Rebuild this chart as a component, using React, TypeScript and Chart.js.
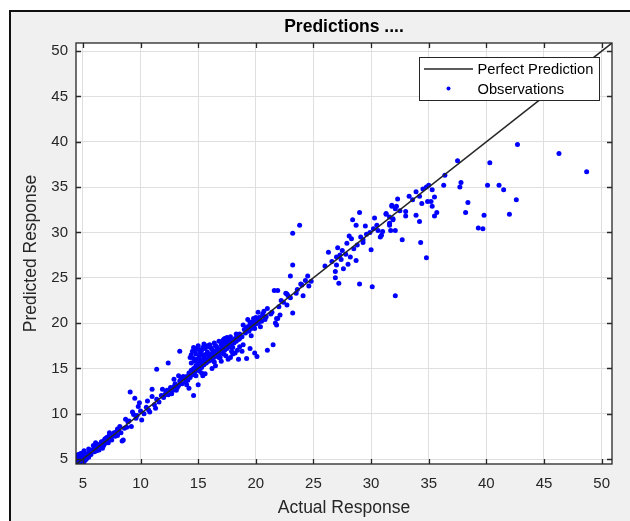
import React, { useEffect, useRef } from 'react';
import { Chart, registerables } from 'chart.js';

Chart.register(...registerables);

// ---- Data: [actual response, predicted response] ----
const obs04to06: number[][] = [
  [4.5, 4.6], [4.6, 5.0], [4.7, 4.5], [4.8, 5.3], [4.9, 4.8], [5.0, 5.1], [4.6, 5.5], [5.1, 4.7],
  [5.2, 5.4], [4.8, 4.5], [5.3, 5.0], [5.0, 5.7], [4.7, 5.2], [5.4, 5.6], [5.5, 5.2], [4.9, 4.6],
  [5.2, 4.9], [5.6, 5.8], [4.5, 5.2], [5.1, 5.9], [4.6, 4.8], [4.8, 5.6], [5.3, 5.4], [4.7, 4.7],
  [5.7, 5.5], [5.5, 6.1],
];
const obs06to09: number[][] = [
  [5.8, 6.0], [6.0, 6.3], [6.2, 5.9], [6.3, 6.6], [6.5, 6.4], [6.6, 6.9], [6.8, 6.5], [6.9, 7.2],
  [7.0, 7.0], [7.1, 7.4], [7.2, 6.8], [7.3, 7.6], [7.4, 7.3], [7.5, 7.1], [7.6, 7.7], [7.8, 7.5],
  [7.9, 8.0], [8.0, 7.6], [8.1, 8.2], [8.3, 7.9], [8.4, 7.0], [8.5, 7.1], [8.6, 8.4], [8.8, 8.5],
  [6.1, 6.8], [6.7, 6.2], [7.7, 7.9], [8.2, 8.6], [5.9, 6.5], [6.4, 6.0], [8.9, 9.1], [9.2, 8.6],
  [9.7, 9.8], [8.7, 9.4], [7.3, 7.9], [6.9, 6.7], [6.0, 5.8], [6.3, 6.2], [6.6, 6.6], [7.0, 7.3],
  [7.2, 7.1], [7.5, 7.6], [7.8, 7.8], [8.0, 8.3], [6.2, 6.5], [6.8, 7.0],
];
const obs09to14: number[][] = [
  [9.1, 12.4], [9.5, 11.7], [9.9, 11.2], [9.3, 10.2], [9.4, 9.9], [10.1, 9.3], [11.0, 11.9], [10.8, 10.2],
  [9.0, 9.2], [9.6, 9.5], [10.0, 10.3], [10.3, 10.0], [10.5, 10.7], [10.7, 10.4], [11.2, 11.0], [11.4, 11.6],
  [11.6, 11.3], [11.8, 12.0], [12.0, 11.8], [12.2, 12.4], [12.4, 12.1], [12.6, 12.9], [12.8, 12.6], [13.0, 13.3],
  [13.2, 12.9], [13.4, 13.6], [13.6, 13.3], [13.8, 13.9], [12.4, 15.6], [11.4, 14.9], [11.0, 12.7], [13.4, 16.9],
  [12.9, 13.8], [11.9, 12.7], [10.6, 11.4], [9.8, 10.8], [12.7, 12.2], [13.1, 12.6], [13.9, 13.5], [11.3, 10.6],
  [12.1, 12.1], [12.5, 12.6], [13.3, 13.1], [13.7, 14.1], [12.3, 12.6], [12.9, 13.0], [13.5, 13.8], [13.3, 14.2],
];
const obs14to19: number[][] = [
  [14.0, 14.1], [14.1, 13.7], [14.2, 14.5], [14.3, 14.0], [14.4, 14.8], [14.5, 14.3], [14.6, 15.0], [14.7, 14.6],
  [14.8, 15.3], [14.9, 14.9], [15.0, 15.2], [15.1, 14.7], [15.2, 15.6], [15.3, 15.1], [15.4, 15.8], [15.5, 15.4],
  [15.6, 16.0], [15.7, 15.6], [15.8, 16.1], [15.9, 15.8], [16.0, 16.2], [16.1, 15.9], [16.2, 16.5], [16.3, 16.1],
  [16.4, 16.6], [16.5, 16.3], [16.6, 16.8], [16.7, 16.5], [16.8, 17.0], [16.9, 16.7], [17.0, 17.2], [17.1, 16.9],
  [17.2, 17.4], [17.3, 17.0], [17.4, 17.5], [17.5, 17.2], [17.6, 17.7], [17.7, 17.4], [17.8, 17.9], [17.9, 17.6],
  [18.0, 18.1], [18.1, 17.8], [18.2, 18.3], [18.3, 18.0], [18.4, 18.5], [18.5, 18.2],
  [14.3, 16.2], [14.5, 16.9], [14.6, 17.3], [14.8, 16.6], [15.0, 17.5], [15.1, 16.3], [15.3, 17.0], [15.4, 16.5],
  [15.6, 17.2], [15.8, 16.8], [16.0, 17.6], [16.2, 17.1], [16.4, 17.8], [14.4, 15.6], [14.9, 16.0], [15.5, 17.7],
  [16.6, 17.4], [16.8, 18.0], [17.2, 18.2], [17.5, 18.4], [14.7, 17.0], [15.2, 16.7], [15.9, 17.4], [16.5, 16.9],
  [16.5, 15.3], [17.0, 15.8], [17.4, 16.4], [17.8, 16.2], [18.2, 16.7], [18.5, 16.0], [18.8, 16.9], [19.2, 16.1],
  [19.9, 16.7], [20.1, 16.3], [21.0, 17.0], [21.5, 17.6], [17.6, 16.0], [16.2, 15.0], [15.6, 14.4], [18.0, 16.6],
  [14.2, 12.8], [14.6, 12.0], [15.0, 13.2], [14.0, 13.2], [15.4, 14.2], [16.9, 16.2], [17.3, 17.8], [18.6, 17.4],
  [14.4, 16.5], [14.6, 16.1], [14.7, 15.8], [14.9, 17.2], [15.1, 17.0], [15.2, 15.9], [15.4, 17.3], [15.5, 16.2],
  [15.7, 16.6], [15.8, 17.5], [16.0, 16.6], [16.1, 17.3], [16.3, 16.9], [16.5, 17.5], [16.7, 17.1], [17.0, 17.6],
  [17.1, 18.0], [17.3, 18.3], [17.6, 18.1], [17.8, 18.5], [18.0, 17.3], [18.3, 18.8], [18.6, 18.3], [16.4, 15.7],
  [16.8, 16.2], [17.2, 16.6], [17.9, 16.9], [18.4, 17.0], [18.9, 17.6], [19.5, 17.2], [15.0, 15.6], [15.3, 14.5],
  [14.8, 14.2],
];
const obs19to25: number[][] = [
  [18.6, 18.8], [18.8, 18.5], [19.0, 19.3], [19.1, 18.9], [19.3, 19.6], [19.4, 19.1], [19.5, 19.8], [19.6, 19.4],
  [19.7, 20.1], [19.8, 19.7], [19.9, 20.3], [20.0, 19.9], [20.1, 20.4], [20.2, 20.0], [20.3, 20.6], [20.4, 19.6],
  [20.5, 20.2], [20.6, 20.8], [20.2, 21.2], [20.9, 20.7], [21.4, 21.2], [21.8, 19.8], [21.8, 20.5], [21.7, 20.0],
  [21.9, 20.5], [22.1, 20.9], [21.0, 21.6], [21.3, 21.0], [19.3, 20.4], [19.6, 18.6], [18.9, 19.8],
  [19.2, 19.5], [19.5, 20.1], [19.8, 20.5], [20.0, 20.6], [20.3, 20.2], [20.6, 21.0], [20.8, 20.4], [19.9, 19.4],
  [20.7, 21.3],
  [21.6, 23.6], [21.9, 23.6], [22.6, 23.3], [22.8, 23.0], [22.4, 22.3], [22.7, 22.0], [23.2, 21.1], [22.7, 23.2],
  [23.8, 30.8], [23.2, 29.9], [23.2, 26.4], [23.0, 25.2], [24.5, 25.2], [24.3, 24.7], [24.6, 24.1], [24.1, 23.0],
  [23.9, 24.3], [23.6, 23.7], [22.2, 22.5], [23.0, 22.8], [23.5, 23.3], [24.0, 24.2], [24.8, 24.6], [22.0, 21.8],
];
const obs25to36: number[][] = [
  [26.3, 27.8], [26.9, 25.7], [26.9, 25.0], [27.2, 24.4], [27.6, 26.0], [27.0, 26.4], [29.0, 32.2], [28.4, 31.4],
  [28.7, 30.8], [28.1, 29.6], [28.3, 29.3], [27.9, 28.8], [27.5, 28.0], [27.3, 27.5], [27.0, 27.3], [28.2, 27.3],
  [28.7, 26.9], [29.0, 24.3], [30.1, 24.0], [32.1, 23.0], [29.5, 30.7], [29.9, 30.0], [30.3, 31.6], [30.5, 30.8],
  [30.6, 30.2], [31.0, 30.1], [30.8, 29.5], [30.0, 28.1], [29.3, 28.9], [28.8, 28.6], [29.1, 29.5], [29.3, 29.2],
  [31.3, 32.1], [31.8, 33.0], [32.1, 32.6], [31.6, 31.0], [31.9, 31.4], [31.7, 30.2], [32.1, 30.2], [26.6, 26.8],
  [27.4, 27.0], [27.8, 27.6], [28.5, 28.2], [26.0, 26.3], [29.6, 29.8], [30.2, 30.4], [27.1, 28.3], [28.0, 26.5],
  [30.9, 29.7], [31.3, 32.0], [31.6, 31.7], [31.9, 31.5], [31.6, 30.8], [32.7, 29.2], [32.3, 33.7], [31.8, 32.9],
  [32.2, 32.9], [32.5, 32.4], [33.0, 32.3], [33.0, 31.8], [33.3, 34.0], [33.6, 33.6], [33.9, 34.5], [34.2, 34.0],
  [34.4, 33.2], [34.5, 34.8], [34.8, 35.0], [35.0, 35.2], [35.3, 34.7], [34.9, 33.4], [35.2, 33.4], [35.3, 32.9],
  [35.5, 31.8], [35.7, 32.2], [35.5, 33.9], [33.9, 31.9], [34.2, 31.2], [34.3, 28.9], [34.8, 27.2],
];
const obs36to49: number[][] = [
  [36.4, 36.3], [37.5, 37.9], [37.8, 35.5], [37.7, 35.0], [36.3, 35.2], [40.1, 35.2], [41.1, 35.2], [41.5, 34.7],
  [42.6, 33.6], [38.4, 33.3], [38.2, 32.2], [39.8, 31.9], [42.0, 32.0], [39.3, 30.5], [39.7, 30.4], [40.3, 37.7],
  [42.7, 39.7], [46.3, 38.7], [48.7, 36.7],
];
const perfectRange = [4.4, 50.9];

const xLimits = [4.4, 50.9];
const yLimits = [4.45, 50.9];
const xTickValues = [5, 10, 15, 20, 25, 30, 35, 40, 45, 50];
const yTickValues = [5, 10, 15, 20, 25, 30, 35, 40, 45, 50];

const chartTitle = 'Predictions ....';
const xAxisTitle = 'Actual Response';
const yAxisTitle = 'Predicted Response';
const legendLabels = ['Perfect Prediction', 'Observations'];

const FONT = '"Liberation Sans", Arial, Helvetica, sans-serif';
const AXIS_COLOR = '#262626';

const observations = [
  ...obs04to06, ...obs06to09, ...obs09to14, ...obs14to19, ...obs19to25, ...obs25to36, ...obs36to49,
];

const matlabPlugin = {
  id: 'matlabBox',
  beforeDraw(chart: any) {
    const { ctx, chartArea: a } = chart;
    ctx.save();
    ctx.fillStyle = '#ffffff';
    ctx.fillRect(a.left, a.top, a.right - a.left, a.bottom - a.top);
    ctx.restore();
  },
  afterDatasetsDraw(chart: any) {
    const { ctx, chartArea: a, scales } = chart;
    const xs = scales.x;
    const ys = scales.y;
    ctx.save();
    ctx.strokeStyle = AXIS_COLOR;
    ctx.lineWidth = 1.3;
    const L = 5;
    ctx.beginPath();
    xs.ticks.forEach((t: any) => {
      const px = Math.round(xs.getPixelForValue(t.value)) + 0.5;
      ctx.moveTo(px, a.bottom);
      ctx.lineTo(px, a.bottom - L);
      ctx.moveTo(px, a.top);
      ctx.lineTo(px, a.top + L);
    });
    ys.ticks.forEach((t: any) => {
      const py = Math.round(ys.getPixelForValue(t.value)) + 0.5;
      ctx.moveTo(a.left, py);
      ctx.lineTo(a.left + L, py);
      ctx.moveTo(a.right, py);
      ctx.lineTo(a.right - L, py);
    });
    ctx.stroke();
    ctx.strokeRect(a.left, a.top, a.right - a.left, a.bottom - a.top);

    // legend box inside the axes (north-east)
    const bw = 180;
    const bh = 43;
    const bx = a.right - 13 - bw;
    const by = a.top + 14;
    ctx.fillStyle = '#ffffff';
    ctx.fillRect(bx, by, bw, bh);
    ctx.lineWidth = 1;
    ctx.strokeStyle = AXIS_COLOR;
    ctx.strokeRect(bx + 0.5, by + 0.5, bw, bh);
    ctx.strokeStyle = '#262626';
    ctx.lineWidth = 1.4;
    ctx.beginPath();
    ctx.moveTo(bx + 5, by + 12);
    ctx.lineTo(bx + 54, by + 12);
    ctx.stroke();
    ctx.fillStyle = '#0000ff';
    ctx.beginPath();
    ctx.arc(bx + 29.5, by + 31.5, 2, 0, Math.PI * 2);
    ctx.fill();
    ctx.fillStyle = '#000000';
    ctx.font = `14.7px ${FONT}`;
    ctx.textAlign = 'left';
    ctx.textBaseline = 'middle';
    ctx.fillText(legendLabels[0], bx + 58.5, by + 13);
    ctx.fillText(legendLabels[1], bx + 58.5, by + 32.5);
    ctx.restore();
  },
};

export default function App() {
  const canvasRef = useRef<HTMLCanvasElement | null>(null);

  useEffect(() => {
    if (!canvasRef.current) return;
    const chart = new Chart(canvasRef.current, {
      type: 'scatter',
      data: {
        datasets: [
          {
            label: legendLabels[0],
            data: perfectRange.map((v) => ({ x: v, y: v })),
            showLine: true,
            borderColor: '#262626',
            borderWidth: 1.5,
            pointRadius: 0,
            backgroundColor: '#262626',
          },
          {
            label: legendLabels[1],
            data: observations.map((p) => ({ x: p[0], y: p[1] })),
            pointRadius: 2.5,
            pointBorderWidth: 0,
            backgroundColor: '#0000ff',
            borderColor: '#0000ff',
          },
        ],
      },
      options: {
        responsive: false,
        animation: false,
        devicePixelRatio: 1,
        layout: { padding: { left: 0, right: 18, top: 0, bottom: 0 } },
        plugins: {
          legend: { display: false },
          tooltip: { enabled: false },
          title: {
            display: true,
            text: chartTitle,
            fullSize: false,
            color: '#000000',
            font: { family: FONT, size: 17.5, weight: 'bold' },
            padding: { top: 3.5, bottom: 5.5 },
          },
        },
        scales: {
          x: {
            type: 'linear',
            min: xLimits[0],
            max: xLimits[1],
            afterBuildTicks: (s: any) => {
              s.ticks = xTickValues.map((v) => ({ value: v }));
            },
            afterFit: (s: any) => {
              s.height = 57;
            },
            grid: { color: '#dfdfdf', lineWidth: 1, drawTicks: false },
            border: { display: false },
            ticks: {
              padding: 11,
              color: AXIS_COLOR,
              font: { family: FONT, size: 15 },
              maxRotation: 0,
              autoSkip: false,
              callback: (v: any) => String(v),
            },
            title: {
              display: true,
              text: xAxisTitle,
              color: AXIS_COLOR,
              font: { family: FONT, size: 17.5 },
              padding: { top: 0, bottom: 2.5 },
            },
          },
          y: {
            type: 'linear',
            min: yLimits[0],
            max: yLimits[1],
            afterBuildTicks: (s: any) => {
              s.ticks = yTickValues.map((v) => ({ value: v }));
            },
            afterFit: (s: any) => {
              s.width = 65;
            },
            grid: { color: '#dfdfdf', lineWidth: 1, drawTicks: false },
            border: { display: false },
            ticks: {
              padding: 8,
              color: AXIS_COLOR,
              font: { family: FONT, size: 15 },
              autoSkip: false,
              callback: (v: any) => String(v),
            },
            title: {
              display: true,
              text: yAxisTitle,
              color: AXIS_COLOR,
              font: { family: FONT, size: 17.5 },
              padding: { top: 9.5, bottom: 0 },
            },
          },
        },
      },
      plugins: [matlabPlugin],
    } as any);
    return () => chart.destroy();
  }, []);

  return (
    <div
      style={{
        position: 'fixed',
        left: 0,
        top: 0,
        width: 630,
        height: 521,
        overflow: 'hidden',
        background: '#ffffff',
      }}
    >
      <div
        style={{
          position: 'absolute',
          left: 9,
          top: 10,
          width: 640,
          height: 540,
          borderLeft: '2px solid #111111',
          borderTop: '2px solid #111111',
          background: '#f0f0f0',
        }}
      />
      <canvas
        ref={canvasRef}
        width={619}
        height={508}
        style={{ position: 'absolute', left: 11, top: 13, width: 619, height: 508 }}
      />
    </div>
  );
}
